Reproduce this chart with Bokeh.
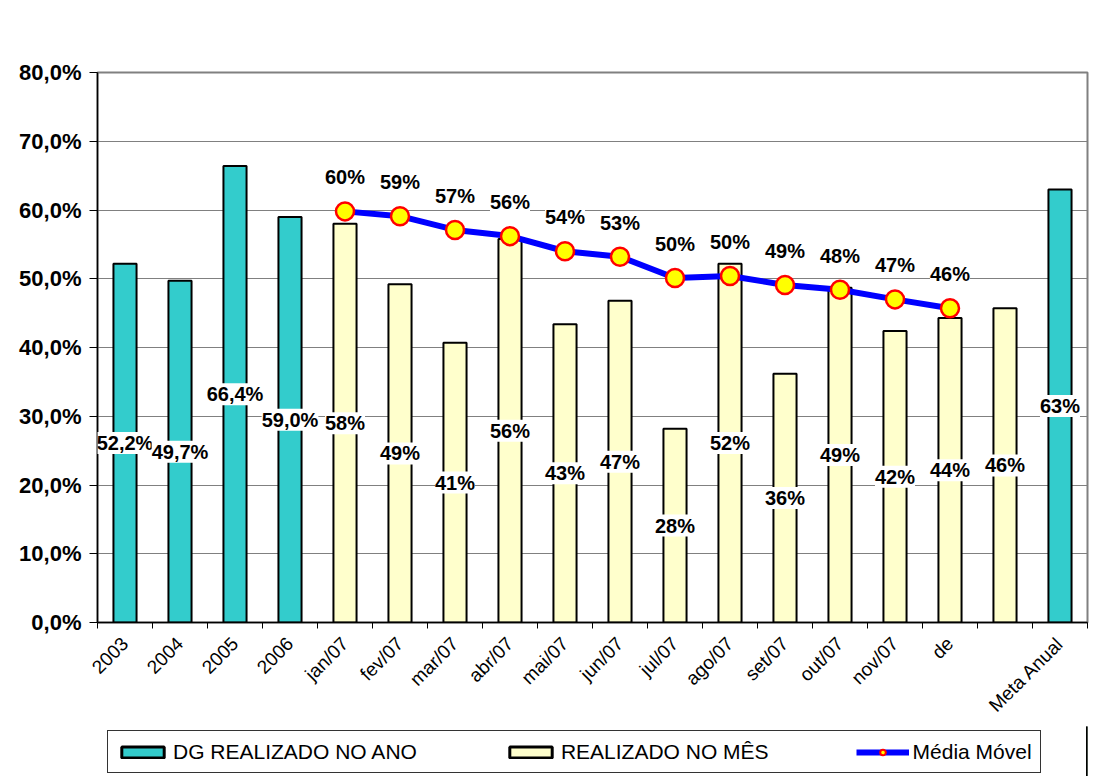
from math import pi
from bokeh.plotting import figure
from bokeh.layouts import column
from bokeh.models import (FactorRange, Range1d, LinearAxis, FixedTicker, ColumnDataSource,
                          LabelSet, Legend, LegendItem, CustomJSTickFormatter)
from bokeh.core.properties import value
from bokeh.embed import file_html
from bokeh.resources import INLINE

# ---------------- data ----------------
categories = ["2003", "2004", "2005", "2006", "jan/07", "fev/07", "mar/07", "abr/07", "mai/07",
              "jun/07", "jul/07", "ago/07", "set/07", "out/07", "nov/07", "dez/07", "Meta Ano", "Meta Anual"]

ano_cats = ["2003", "2004", "2005", "2006", "Meta Anual"]
ano_vals = [52.2, 49.7, 66.4, 59.0, 63.0]
ano_labels = ["52,2%", "49,7%", "66,4%", "59,0%", "63%"]

mes_cats = ["jan/07", "fev/07", "mar/07", "abr/07", "mai/07", "jun/07", "jul/07", "ago/07",
            "set/07", "out/07", "nov/07", "dez/07", "Meta Ano"]
mes_vals = [58.0, 49.2, 40.7, 55.8, 43.4, 46.8, 28.2, 52.2, 36.2, 48.7, 42.4, 44.3, 45.7]

mm_cats = ["jan/07", "fev/07", "mar/07", "abr/07", "mai/07", "jun/07", "jul/07", "ago/07",
           "set/07", "out/07", "nov/07", "dez/07"]
mm_vals = [59.8, 59.1, 57.1, 56.2, 54.0, 53.2, 50.1, 50.4, 49.1, 48.4, 47.0, 45.7]

y_ticks = [0, 10, 20, 30, 40, 50, 60, 70, 80]

legend_labels = ["DG REALIZADO NO ANO", "REALIZADO NO MÊS", "Média Móvel"]

TEAL = "#33CCCC"
CREAM = "#FFFFCC"
FONT = "Liberation Sans"

ano_src = ColumnDataSource(dict(cat=ano_cats, val=ano_vals, half=[v / 2 for v in ano_vals], lab=ano_labels))
mes_src = ColumnDataSource(dict(cat=mes_cats, val=mes_vals, half=[v / 2 for v in mes_vals],
                                lab=[f"{round(v)}%" for v in mes_vals]))
mm_src = ColumnDataSource(dict(cat=mm_cats, val=mm_vals, lab=[f"{round(v)}%" for v in mm_vals]))

# ---------------- main figure ----------------
W, H = 1105, 726
p = figure(x_range=FactorRange(factors=categories), y_range=Range1d(0, 80),
           width=W, height=H, output_backend="svg", toolbar_location=None,
           min_border_left=97, min_border_right=W - 1087, min_border_top=72, min_border_bottom=H - 625)
p.outline_line_color = "#808080"
p.outline_line_width = 2
p.xgrid.grid_line_color = None

yax = p.yaxis[0]
yax.ticker = FixedTicker(ticks=y_ticks)
yax.formatter = CustomJSTickFormatter(code="return tick.toFixed(1).replace('.', ',') + '%';")
yax.major_label_text_font = FONT
yax.major_label_text_font_style = "bold"
yax.major_label_text_font_size = "22px"
yax.major_label_text_color = "black"
yax.axis_line_color = "black"
yax.axis_line_width = 1.5
yax.major_tick_out = 8
yax.major_tick_in = 0
yax.major_tick_line_color = "black"
yax.minor_tick_line_color = None
yax.major_label_standoff = 8
p.ygrid.grid_line_color = "#808080"
p.ygrid.grid_line_width = 1

cax = p.xaxis[0]
cax.axis_line_color = None
cax.major_tick_line_color = None
cax.major_label_orientation = pi / 4
cax.major_label_text_font = FONT
cax.major_label_text_font_size = "19px"
cax.major_label_text_color = "black"
cax.major_label_standoff = 6
cax.formatter = CustomJSTickFormatter(
    code="if (tick == 'dez/07') { return 'de'; } if (tick == 'Meta Ano') { return ''; } return tick;")

tick_axis = LinearAxis(ticker=FixedTicker(ticks=list(range(len(categories) + 1))),
                       major_tick_out=6, major_tick_in=0, major_label_text_font_size="0px",
                       major_label_standoff=0, axis_line_color="black", axis_line_width=1.5,
                       major_tick_line_color="black", minor_tick_line_color=None)
p.below = [tick_axis, cax]

p.vbar(x="cat", top="val", width=0.42, source=ano_src, fill_color=TEAL, line_color="black", line_width=2)
p.vbar(x="cat", top="val", width=0.42, source=mes_src, fill_color=CREAM, line_color="black", line_width=2)

for src in (ano_src, mes_src):
    p.add_layout(LabelSet(x="cat", y="half", text="lab", source=src, text_align="center",
                          text_baseline="middle", text_font=value(FONT), text_font_style="bold",
                          text_font_size="20px", text_color="black", background_fill_color="white"))

p.line(x="cat", y="val", source=mm_src, line_color="#0000FF", line_width=6)
p.scatter(x="cat", y="val", source=mm_src, size=18, fill_color="#FFFF00",
          line_color="#FF0000", line_width=2.5)
p.add_layout(LabelSet(x="cat", y="val", text="lab", source=mm_src, y_offset=34, text_align="center",
                      text_baseline="middle", text_font=value(FONT), text_font_style="bold",
                      text_font_size="20px", text_color="black", background_fill_color="white"))

# ---------------- legend strip (own small figure; its frame aligns with the main frame) ----------------
lf = figure(width=W, height=50, x_range=Range1d(0, 1), y_range=Range1d(0, 1), title=None,
            output_backend="svg", toolbar_location=None, x_axis_location=None, y_axis_location=None,
            min_border=0, min_border_left=0, min_border_right=0, min_border_top=0, min_border_bottom=0)
lf.outline_line_color = None
lf.grid.visible = False
# legend swatches: renderers whose (off-range) point only serves the legend glyph
r1 = lf.vbar(x=[5], top=[5], width=0.5, fill_color=TEAL, line_color="black", line_width=3)
r2 = lf.vbar(x=[5], top=[5], width=0.5, fill_color=CREAM, line_color="black", line_width=3)
r3 = lf.line(x=[5, 6], y=[5, 5], line_color="#0000FF", line_width=6)
r4 = lf.scatter(x=[5], y=[5], size=13, fill_color="#FFFF00", line_color="#FF0000", line_width=2)
legend = Legend(items=[LegendItem(label=legend_labels[0], renderers=[r1]),
                       LegendItem(label=legend_labels[1], renderers=[r2]),
                       LegendItem(label=legend_labels[2], renderers=[r3, r4])],
                location=(10, 3), orientation="horizontal", spacing=87, glyph_width=53,
                glyph_height=14, label_standoff=4, padding=8, margin=0,
                border_line_color="#333333", border_line_width=1, border_line_alpha=1,
                background_fill_color="white", background_fill_alpha=1,
                label_text_font=FONT, label_text_font_size="21px",
                label_text_color="black", label_height=25)
lf.add_layout(legend)

layout = column(p, lf, spacing=0)

open("out.html", "w").write(file_html(layout, INLINE))
